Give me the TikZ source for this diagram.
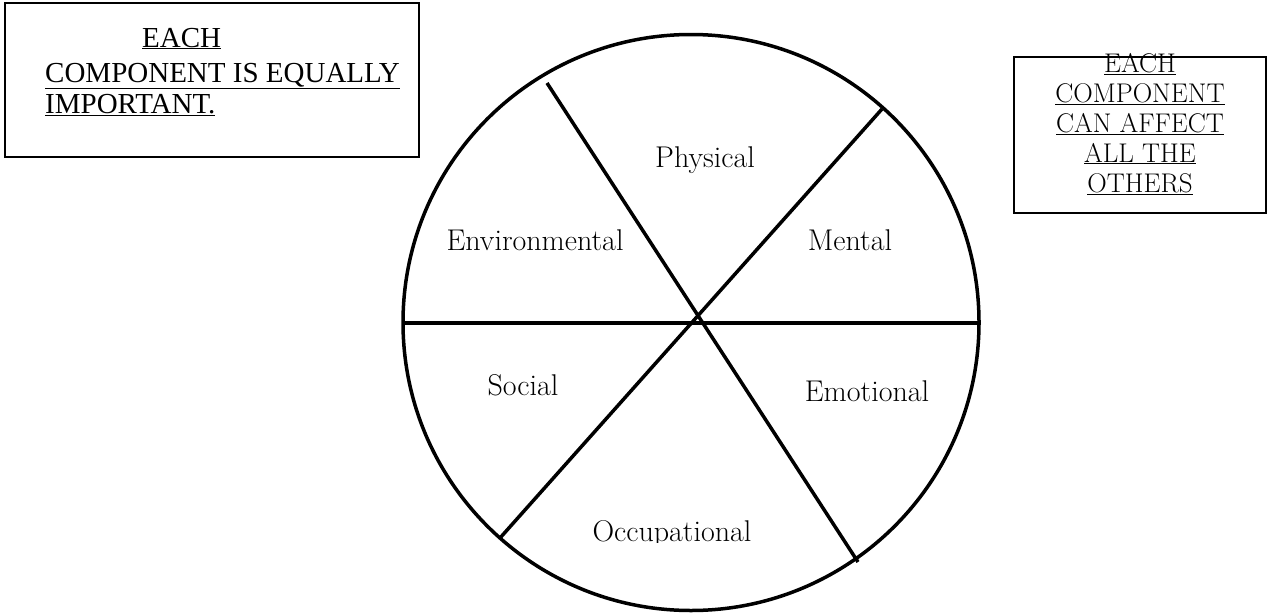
\documentclass[tikz,border=0pt]{standalone}
\usepackage{fontspec}
\newfontfamily\timesfont{Liberation Serif}

\tikzset{
  wheelline/.style={line width=3.5pt},
  notebox/.style={line width=1.5pt},
  sector/.style={anchor=base, font=\fontsize{30}{34}\selectfont, inner sep=0pt},
  leftnote/.style={anchor=base west, font=\timesfont\fontsize{29}{33}\selectfont, inner sep=0pt},
  rightnote/.style={anchor=base, font=\fontsize{27}{30}\selectfont, inner sep=0pt},
}

\begin{document}
\begin{tikzpicture}[x=1pt, y=-1pt]
  \useasboundingbox (0,0) rectangle (1268,613);

  % left note
  \draw[notebox] (5,3) rectangle (419,157);
  \node[leftnote] (eachL) at (142,47) {\underline{EACH}};
  \node[leftnote] (compL) at (45,82) {\underline{COMPONENT IS EQUALLY}};
  \node[leftnote] (impL) at (45,113) {\underline{IMPORTANT.}};

  % right note
  \draw[notebox] (1014,57) rectangle (1266,213);
  \foreach \txt [count=\i] in {EACH, COMPONENT, CAN AFFECT, ALL THE, OTHERS}
    \node[rightnote] (noteR\i) at (1140,{42+30*\i}) {\underline{\txt}};

  % the wheel
  \coordinate (c) at (691,322.5);
  \coordinate (w) at (403,323);
  \coordinate (e) at (980,323);
  \coordinate (nw) at (547,83);
  \coordinate (se) at (858,562);
  \coordinate (ne) at (882,109);
  \coordinate (sw) at (500,538);
  \draw[wheelline] (c) circle[radius=288pt];
  \draw[wheelline] (w) -- (e);
  \draw[wheelline] (nw) -- (se);
  \draw[wheelline] (ne) -- (sw);

  \node[sector] (physical) at (705,167) {Physical};
  \node[sector] (environmental) at (535,250) {Environmental};
  \node[sector] (mental) at (850,250) {Mental};
  \node[sector] (social) at (523,395) {Social};
  \node[sector] (emotional) at (867,401) {Emotional};
  \begin{scope}
    \clip (560,490) rectangle (790,542);
    \node[sector] (occupational) at (672,541) {Occupational};
  \end{scope}
\end{tikzpicture}
\end{document}
